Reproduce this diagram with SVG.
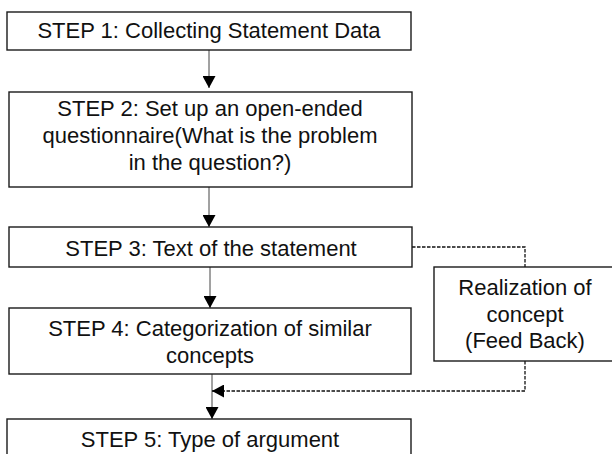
<svg xmlns="http://www.w3.org/2000/svg" width="612" height="454" viewBox="0 0 612 454">
<style>
.box{fill:#fff;stroke:#1a1a1a;stroke-width:1.4}
.t{font-family:"Liberation Sans",Arial,sans-serif;font-size:22px;fill:#111;text-anchor:middle}
.ln{stroke:#444;stroke-width:1;fill:none}
.dl{stroke:#111;stroke-width:1.3;fill:none;stroke-dasharray:3.5,1.5}
</style>
<defs>
<marker id="ah" markerWidth="12" markerHeight="13" refX="12" refY="6.5" orient="auto" markerUnits="userSpaceOnUse">
<path d="M0,0 L12,6.5 L0,13 Z" fill="#000"/>
</marker>
</defs>
<rect width="612" height="454" fill="#fff"/>
<g id="connectors">
<line class="ln" x1="209" y1="50" x2="209" y2="88" marker-end="url(#ah)"/>
<line class="ln" x1="209" y1="187" x2="209" y2="227" marker-end="url(#ah)"/>
<line class="ln" x1="210" y1="267" x2="210" y2="308" marker-end="url(#ah)"/>
<line class="ln" x1="212" y1="374" x2="212" y2="419" marker-end="url(#ah)"/>
<polyline class="dl" points="412,247 525,247 525,267"/>
<polyline class="dl" points="525,361 525,391 212,391" marker-end="url(#ah)"/>
</g>
<g id="step1">
<rect class="box" x="7" y="12" width="404" height="38"/>
<text class="t" x="209" y="38">STEP 1: Collecting Statement Data</text>
</g>
<g id="step2">
<rect class="box" x="9" y="92" width="403" height="95"/>
<text class="t" x="210" y="116">STEP 2: Set up an open-ended</text>
<text class="t" x="210" y="143">questionnaire(What is the problem</text>
<text class="t" x="210" y="170">in the question?)</text>
</g>
<g id="step3">
<rect class="box" x="9" y="227" width="403" height="40"/>
<text class="t" x="211" y="256">STEP 3: Text of the statement</text>
</g>
<g id="step4">
<rect class="box" x="9" y="308" width="402" height="66"/>
<text class="t" x="210" y="336">STEP 4: Categorization of similar</text>
<text class="t" x="210" y="363">concepts</text>
</g>
<g id="step5">
<rect class="box" x="7" y="419" width="404" height="50"/>
<text class="t" x="210" y="447">STEP 5: Type of argument</text>
</g>
<g id="feedback">
<rect class="box" x="434" y="267" width="190" height="94"/>
<text class="t" x="525" y="295">Realization of</text>
<text class="t" x="525" y="322">concept</text>
<text class="t" x="525" y="348">(Feed Back)</text>
</g>
</svg>
